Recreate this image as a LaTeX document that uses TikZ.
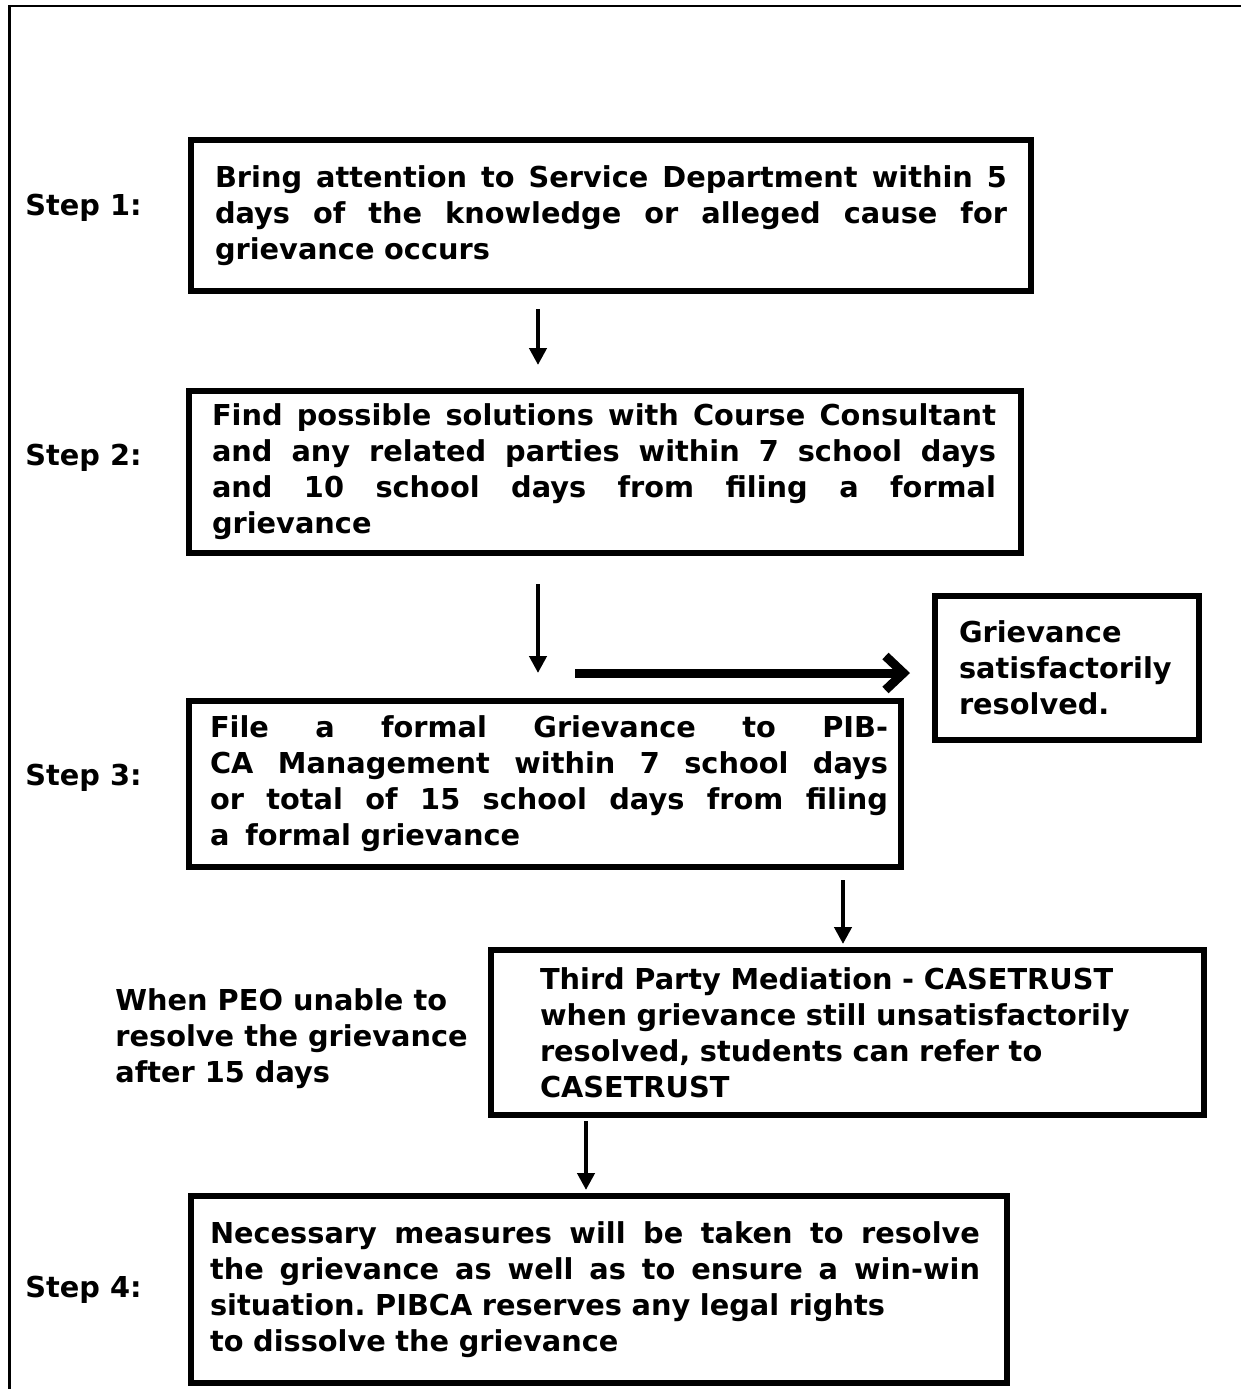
\documentclass[tikz,border=0pt]{standalone}
\usepackage{fontspec}
\setmainfont{DejaVu Sans}
\usetikzlibrary{arrows.meta}
\newcommand\jline[2]{\leavevmode\hbox to #1{#2}}
\begin{document}
\begin{tikzpicture}[x=0.5pt,y=-0.5pt,
  txt/.style={font=\fontsize{14.4}{18}\selectfont\bfseries\frenchspacing},
  box/.style={draw, line width=3pt, rectangle, inner sep=0pt, align=left, txt},
  lab/.style={txt, align=left, inner sep=0pt, anchor=west},
  down/.style={line width=2.3pt, -{Triangle[length=8.5pt,width=8.5pt]}},
  side/.style={line width=4.5pt, -{Straight Barb[length=9pt,width=17pt]}}]
\useasboundingbox (0,0) rectangle (1241,1389);
% outer frame
\draw[line width=1.25pt] (9.5,1389) -- (9.5,6) -- (1241,6);

% boxes
\node[box, minimum width=420pt, minimum height=75.5pt, text width=396pt] (b1) at (611,215.5)
  {\jline{396pt}{Bring\hfill attention\hfill to\hfill Service\hfill Department\hfill within\hfill 5}\\
   \jline{396pt}{days\hfill of\hfill the\hfill knowledge\hfill or\hfill alleged\hfill cause\hfill for}\\
   \mbox{grievance occurs}};
\node[box, minimum width=416pt, minimum height=81pt, text width=393pt] (b2) at (605,472)
  {\jline{392pt}{Find\hfill possible\hfill solutions\hfill with\hfill Course\hfill Consultant}\\
   \jline{392pt}{and\hfill any\hfill related\hfill parties\hfill within\hfill 7\hfill school\hfill days}\\
   \jline{392pt}{and\hfill 10\hfill school\hfill days\hfill from\hfill filing\hfill a\hfill formal}\\
   \mbox{grievance}};
\node[box, minimum width=132pt, minimum height=72pt, text width=108pt] (bg) at (1067,668)
  {\mbox{Grievance}\\ \mbox{satisfactorily}\\ \mbox{resolved.}};
\node[box, minimum width=356pt, minimum height=83pt, text width=335pt] (b3) at (545,784)
  {\jline{339pt}{File\hfill a\hfill formal\hfill Grievance\hfill to\hfill PIB-}\\
   \jline{339pt}{CA\hfill Management\hfill within\hfill 7\hfill school\hfill days}\\
   \jline{339pt}{or\hfill total\hfill of\hfill 15\hfill school\hfill days\hfill from\hfill filing}\\
   \mbox{a\hspace{0.55em}formal grievance}};
\node[box, minimum width=356.5pt, minimum height=82.5pt, text width=307.5pt] (b4) at (847.5,1032.5)
  {\mbox{Third Party Mediation - CASETRUST}\\
   \mbox{when grievance still unsatisfactorily}\\
   \mbox{resolved, students can refer to}\\
   \mbox{CASETRUST}};
\node[box, minimum width=408pt, minimum height=93.5pt, text width=389pt] (b5) at (599,1289.5)
  {\jline{385pt}{Necessary\hfill measures\hfill will\hfill be\hfill taken\hfill to\hfill resolve}\\
   \jline{385pt}{the\hfill grievance\hfill as\hfill well\hfill as\hfill to\hfill ensure\hfill a\hfill win-win}\\
   \mbox{situation. PIBCA reserves any legal rights}\\
   \mbox{to dissolve the grievance}};

% labels
\node[lab] (s1) at (25,208) {Step 1:};
\node[lab] (s2) at (25,458) {Step 2:};
\node[lab] (s3) at (25,778) {Step 3:};
\node[lab] (s4) at (25,1290) {Step 4:};
\node[lab] (peo) at (115,1039) {When PEO unable to\\ resolve the grievance\\ after 15 days};

% connectors
\coordinate (xa) at (538,0);
\coordinate (xb) at (843,0);
\coordinate (xc) at (586,0);
\coordinate (h0) at (575,673);
\draw[down, shorten <=7.5pt, shorten >=11.5pt] (b1.south -| xa) -- (b2.north -| xa);
\draw[down, shorten <=14pt, shorten >=12.5pt] (b2.south -| xa) -- (b3.north -| xa);
\draw[down, shorten <=5pt, shorten >=1.5pt] (b3.south -| xb) -- (b4.north -| xb);
\draw[down, shorten <=1.5pt, shorten >=1.5pt] (b4.south -| xc) -- (b5.north -| xc);
\draw[side, shorten >=11pt] (h0) -- (h0 -| bg.west);
\end{tikzpicture}
\end{document}
